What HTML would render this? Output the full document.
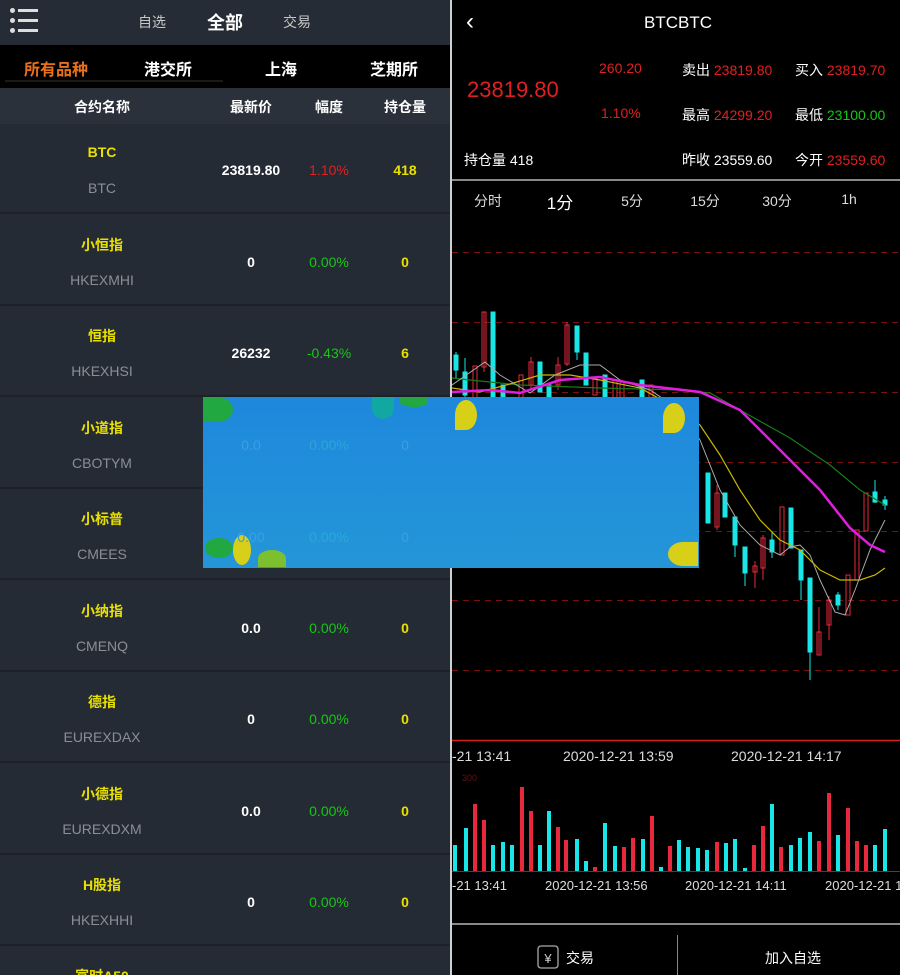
<!DOCTYPE html>
<html style="width:900px;height:975px;overflow:hidden"><head><meta charset="utf-8">
<style>
*{margin:0;padding:0;box-sizing:border-box}
body{width:900px;height:975px;overflow:hidden;background:#000;font-family:"Liberation Sans","Noto Sans CJK SC",sans-serif;position:relative}
.a{position:absolute;white-space:nowrap}
.c{transform:translateX(-50%)}
#left{position:absolute;left:0;top:0;width:450px;height:975px;background:#252b34;overflow:hidden}
.row{position:absolute;left:0;width:450px;height:90px;background:#252b34;border-bottom:2px solid #1d2128}
.nm{color:#e8e000;font-size:14px;font-weight:bold}
.cd{color:#8a8f96;font-size:14px}
.w{color:#fff;font-size:14px;font-weight:bold}
.g{color:#14c814;font-size:14px}
.r{color:#e02020;font-size:14px}
.y{color:#e8e000;font-size:14px;font-weight:bold}
</style></head><body>
<div id="left">
 <div class="a" style="left:0;top:0;width:450px;height:45px;background:#262c35"></div>
 <div class="a" style="left:10px;top:8px;width:5px;height:5px;border-radius:50%;background:#ddd"></div>
 <div class="a" style="left:10px;top:18px;width:5px;height:5px;border-radius:50%;background:#ddd"></div>
 <div class="a" style="left:10px;top:28px;width:5px;height:5px;border-radius:50%;background:#ddd"></div>
 <div class="a" style="left:18px;top:9px;width:20px;height:3px;background:#ddd"></div>
 <div class="a" style="left:18px;top:19px;width:20px;height:3px;background:#ddd"></div>
 <div class="a" style="left:18px;top:29px;width:20px;height:3px;background:#ddd"></div>
 <div class="a c" style="left:152px;top:12px;color:#c8c8c8;font-size:14px">自选</div>
 <div class="a c" style="left:225px;top:9px;color:#fff;font-size:18px;font-weight:bold">全部</div>
 <div class="a c" style="left:297px;top:12px;color:#c8c8c8;font-size:14px">交易</div>
 <div class="a" style="left:0;top:45px;width:450px;height:43px;background:#000"></div>
 <div class="a" style="left:5px;top:80px;width:218px;height:2px;background:#1a1a1a"></div>
 <div class="a c" style="left:56px;top:56px;color:#e8701a;font-size:16px;font-weight:bold">所有品种</div>
 <div class="a c" style="left:168px;top:56px;color:#fff;font-size:16px;font-weight:bold">港交所</div>
 <div class="a c" style="left:281px;top:56px;color:#fff;font-size:16px;font-weight:bold">上海</div>
 <div class="a c" style="left:394px;top:56px;color:#fff;font-size:16px;font-weight:bold">芝期所</div>
 <div class="a" style="left:0;top:88px;width:450px;height:36px;background:#2a313a"></div>
 <div class="a c" style="left:102px;top:97px;color:#fff;font-size:14px;font-weight:bold">合约名称</div>
 <div class="a c" style="left:251px;top:97px;color:#fff;font-size:14px;font-weight:bold">最新价</div>
 <div class="a c" style="left:329px;top:97px;color:#fff;font-size:14px;font-weight:bold">幅度</div>
 <div class="a c" style="left:405px;top:97px;color:#fff;font-size:14px;font-weight:bold">持仓量</div>

 <div class="row" style="top:124px"><div class="a c nm" style="left:102px;top:20px">BTC</div><div class="a c cd" style="left:102px;top:56px">BTC</div><div class="a c w" style="left:251px;top:38px">23819.80</div><div class="a c r" style="left:329px;top:38px">1.10%</div><div class="a c y" style="left:405px;top:38px">418</div></div>
 <div class="row" style="top:216px"><div class="a c nm" style="left:102px;top:19px">小恒指</div><div class="a c cd" style="left:102px;top:56px">HKEXMHI</div><div class="a c w" style="left:251px;top:38px">0</div><div class="a c g" style="left:329px;top:38px">0.00%</div><div class="a c y" style="left:405px;top:38px">0</div></div>
 <div class="row" style="top:307px"><div class="a c nm" style="left:102px;top:19px">恒指</div><div class="a c cd" style="left:102px;top:56px">HKEXHSI</div><div class="a c w" style="left:251px;top:38px">26232</div><div class="a c g" style="left:329px;top:38px">-0.43%</div><div class="a c y" style="left:405px;top:38px">6</div></div>
 <div class="row" style="top:399px"><div class="a c nm" style="left:102px;top:19px">小道指</div><div class="a c cd" style="left:102px;top:56px">CBOTYM</div></div>
 <div class="row" style="top:490px"><div class="a c nm" style="left:102px;top:19px">小标普</div><div class="a c cd" style="left:102px;top:56px">CMEES</div></div>
 <div class="row" style="top:582px"><div class="a c nm" style="left:102px;top:19px">小纳指</div><div class="a c cd" style="left:102px;top:56px">CMENQ</div><div class="a c w" style="left:251px;top:38px">0.0</div><div class="a c g" style="left:329px;top:38px">0.00%</div><div class="a c y" style="left:405px;top:38px">0</div></div>
 <div class="row" style="top:673px"><div class="a c nm" style="left:102px;top:19px">德指</div><div class="a c cd" style="left:102px;top:56px">EUREXDAX</div><div class="a c w" style="left:251px;top:38px">0</div><div class="a c g" style="left:329px;top:38px">0.00%</div><div class="a c y" style="left:405px;top:38px">0</div></div>
 <div class="row" style="top:765px"><div class="a c nm" style="left:102px;top:19px">小德指</div><div class="a c cd" style="left:102px;top:56px">EUREXDXM</div><div class="a c w" style="left:251px;top:38px">0.0</div><div class="a c g" style="left:329px;top:38px">0.00%</div><div class="a c y" style="left:405px;top:38px">0</div></div>
 <div class="row" style="top:856px"><div class="a c nm" style="left:102px;top:19px">H股指</div><div class="a c cd" style="left:102px;top:56px">HKEXHHI</div><div class="a c w" style="left:251px;top:38px">0</div><div class="a c g" style="left:329px;top:38px">0.00%</div><div class="a c y" style="left:405px;top:38px">0</div></div>
 <div class="row" style="top:948px;height:27px;border:none"><div class="a c nm" style="left:102px;top:18px">富时A50</div></div>
</div>
<div class="a" style="left:450px;top:0;width:2px;height:975px;background:#d0d0d0"></div>

<div class="a" style="left:466px;top:8px;color:#fff;font-size:24px">&#8249;</div>
<div class="a c" style="left:678px;top:13px;color:#fff;font-size:17px">BTCBTC</div>
<div class="a" style="left:467px;top:77px;color:#e02020;font-size:22px">23819.80</div>
<div class="a" style="left:599px;top:60px;color:#e02020;font-size:14px">260.20</div>
<div class="a" style="left:601px;top:105px;color:#e02020;font-size:14px">1.10%</div>
<div class="a" style="left:682px;top:60px;color:#fff;font-size:14px">卖出 <span style="color:#e02020">23819.80</span></div>
<div class="a" style="left:795px;top:60px;color:#fff;font-size:14px">买入 <span style="color:#e02020">23819.70</span></div>
<div class="a" style="left:682px;top:105px;color:#fff;font-size:14px">最高 <span style="color:#e02020">24299.20</span></div>
<div class="a" style="left:795px;top:105px;color:#fff;font-size:14px">最低 <span style="color:#14c814">23100.00</span></div>
<div class="a" style="left:464px;top:150px;color:#fff;font-size:14px">持仓量 418</div>
<div class="a" style="left:682px;top:150px;color:#fff;font-size:14px">昨收 23559.60</div>
<div class="a" style="left:795px;top:150px;color:#fff;font-size:14px">今开 <span style="color:#e02020">23559.60</span></div>
<div class="a" style="left:452px;top:179px;width:448px;height:2px;background:#888"></div>
<div class="a c" style="left:488px;top:191px;color:#ddd;font-size:14px">分时</div>
<div class="a c" style="left:560px;top:189px;color:#fff;font-size:17px">1分</div>
<div class="a c" style="left:632px;top:191px;color:#ddd;font-size:14px">5分</div>
<div class="a c" style="left:705px;top:191px;color:#ddd;font-size:14px">15分</div>
<div class="a c" style="left:777px;top:191px;color:#ddd;font-size:14px">30分</div>
<div class="a c" style="left:849px;top:191px;color:#ddd;font-size:14px">1h</div>

<svg class="a" style="left:452px;top:220px" width="448" height="755" viewBox="452 220 448 755">
<g stroke="#7a1010" stroke-dasharray="6,5" stroke-width="1">
<line x1="452" x2="900" y1="252.5" y2="252.5"/><line x1="452" x2="900" y1="322.5" y2="322.5"/><line x1="452" x2="900" y1="392.5" y2="392.5"/><line x1="452" x2="900" y1="462.5" y2="462.5"/><line x1="452" x2="900" y1="531.5" y2="531.5"/><line x1="452" x2="900" y1="600.5" y2="600.5"/><line x1="452" x2="900" y1="670.5" y2="670.5"/>
</g>
<g stroke-width="1" fill="none">
<g stroke="#19e6e6" fill="#19e6e6">
<line x1="456" x2="456" y1="352" y2="378"/><rect x="454" y="355" width="4" height="15"/>
<line x1="465" x2="465" y1="358" y2="400"/><rect x="463" y="372" width="4" height="23"/>
<rect x="491" y="312" width="4" height="90"/>
<rect x="501" y="385" width="4" height="15"/>
<rect x="538" y="362" width="4" height="30"/>
<rect x="547" y="385" width="4" height="15"/>
<line x1="577" x2="577" y1="326" y2="360"/><rect x="575" y="326" width="4" height="26"/>
<rect x="584" y="353" width="4" height="32"/>
<rect x="603" y="375" width="4" height="25"/>
<rect x="640" y="380" width="4" height="20"/>
<rect x="706" y="473" width="4" height="50"/>
<rect x="723" y="493" width="4" height="24"/>
<line x1="735" x2="735" y1="517" y2="557"/><rect x="733" y="517" width="4" height="28"/>
<line x1="745" x2="745" y1="547" y2="586"/><rect x="743" y="547" width="4" height="26"/>
<line x1="772" x2="772" y1="532" y2="558"/><rect x="770" y="540" width="4" height="12"/>
<rect x="789" y="508" width="4" height="40"/>
<line x1="801" x2="801" y1="550" y2="600"/><rect x="799" y="550" width="4" height="30"/>
<line x1="810" x2="810" y1="578" y2="680"/><rect x="808" y="578" width="4" height="74"/>
<line x1="838" x2="838" y1="592" y2="610"/><rect x="836" y="595" width="4" height="10"/>
<line x1="875" x2="875" y1="480" y2="503"/><rect x="873" y="492" width="4" height="10"/>
<line x1="885" x2="885" y1="496" y2="510"/><rect x="883" y="500" width="4" height="5"/>
</g>
<g stroke="#e8283c">
<rect x="473" y="366" width="4" height="34"/>
<line x1="484" x2="484" y1="312" y2="372"/><rect x="482" y="312" width="4" height="55"/>
<rect x="519" y="375" width="4" height="25"/>
<line x1="531" x2="531" y1="357" y2="390"/><rect x="529" y="362" width="4" height="23"/>
<line x1="558" x2="558" y1="357" y2="390"/><rect x="556" y="365" width="4" height="20"/>
<line x1="567" x2="567" y1="322" y2="366"/><rect x="565" y="325" width="4" height="39"/>
<rect x="593" y="378" width="4" height="17"/>
<rect x="613" y="380" width="4" height="20"/>
<rect x="620" y="382" width="4" height="18"/>
<rect x="649" y="385" width="4" height="15"/>
<line x1="717" x2="717" y1="485" y2="530"/><rect x="715" y="493" width="4" height="34"/>
<line x1="755" x2="755" y1="561" y2="588"/><rect x="753" y="566" width="4" height="6"/>
<line x1="763" x2="763" y1="535" y2="580"/><rect x="761" y="538" width="4" height="30"/>
<rect x="780" y="507" width="4" height="48"/>
<line x1="819" x2="819" y1="607" y2="655"/><rect x="817" y="632" width="4" height="23"/>
<line x1="829" x2="829" y1="596" y2="640"/><rect x="827" y="600" width="4" height="25"/>
<rect x="846" y="575" width="4" height="40"/>
<rect x="855" y="530" width="4" height="50"/>
<rect x="864" y="493" width="4" height="38"/>
</g>
</g>
<polyline fill="none" stroke="#1a7a1a" stroke-width="1.2" points="452,378 470,380 520,385 600,388 680,390 710,393 740,410 790,438 830,465 860,490 885,505"/>
<polyline fill="none" stroke="#c8b800" stroke-width="1.2" points="452,388 480,392 510,384 540,375 570,375 600,380 640,388 680,410 700,425 720,455 740,490 760,520 780,540 800,550 820,570 840,580 860,580 875,575 885,568"/>
<polyline fill="none" stroke="#aaa" stroke-width="1" points="452,385 485,362 500,375 530,393 555,375 580,365 600,365 620,380 650,390 680,410 700,440 720,490 740,525 760,545 780,555 790,547 800,545 810,555 820,580 835,612 845,615 855,590 870,550 885,520"/>
<polyline fill="none" stroke="#e01ee0" stroke-width="2.5" points="452,392 490,390 520,393 560,380 600,377 640,385 700,392 740,410 760,430 790,460 820,490 850,528 870,545 885,552"/>
<line x1="452" x2="900" y1="740.5" y2="740.5" stroke="#d02020" stroke-width="1.5"/>
<text x="452" y="761" fill="#ddd" font-size="14" font-family="Liberation Sans">-21 13:41</text>
<text x="563" y="761" fill="#ddd" font-size="14" font-family="Liberation Sans">2020-12-21 13:59</text>
<text x="731" y="761" fill="#ddd" font-size="14" font-family="Liberation Sans">2020-12-21 14:17</text>
<line x1="452" x2="900" y1="871.5" y2="871.5" stroke="#444"/>
<g fill="#19e6e6">
<rect x="453" y="845" width="4" height="26"/><rect x="464" y="828" width="4" height="43"/><rect x="491" y="845" width="4" height="26"/><rect x="501" y="842" width="4" height="29"/><rect x="510" y="845" width="4" height="26"/><rect x="538" y="845" width="4" height="26"/><rect x="547" y="811" width="4" height="60"/><rect x="575" y="839" width="4" height="32"/><rect x="584" y="861" width="4" height="10"/><rect x="603" y="823" width="4" height="48"/><rect x="613" y="846" width="4" height="25"/><rect x="641" y="839" width="4" height="32"/><rect x="659" y="867" width="4" height="4"/><rect x="677" y="840" width="4" height="31"/><rect x="686" y="847" width="4" height="24"/><rect x="696" y="848" width="4" height="23"/><rect x="705" y="850" width="4" height="21"/><rect x="724" y="843" width="4" height="28"/><rect x="733" y="839" width="4" height="32"/><rect x="743" y="868" width="4" height="3"/><rect x="770" y="804" width="4" height="67"/><rect x="789" y="845" width="4" height="26"/><rect x="798" y="838" width="4" height="33"/><rect x="808" y="832" width="4" height="39"/><rect x="836" y="835" width="4" height="36"/><rect x="873" y="845" width="4" height="26"/><rect x="883" y="829" width="4" height="42"/>
</g>
<g fill="#e8283c">
<rect x="473" y="804" width="4" height="67"/><rect x="482" y="820" width="4" height="51"/><rect x="520" y="787" width="4" height="84"/><rect x="529" y="811" width="4" height="60"/><rect x="556" y="827" width="4" height="44"/><rect x="564" y="840" width="4" height="31"/><rect x="593" y="867" width="4" height="4"/><rect x="622" y="847" width="4" height="24"/><rect x="631" y="838" width="4" height="33"/><rect x="650" y="816" width="4" height="55"/><rect x="668" y="846" width="4" height="25"/><rect x="715" y="842" width="4" height="29"/><rect x="752" y="845" width="4" height="26"/><rect x="761" y="826" width="4" height="45"/><rect x="779" y="847" width="4" height="24"/><rect x="817" y="841" width="4" height="30"/><rect x="827" y="793" width="4" height="78"/><rect x="846" y="808" width="4" height="63"/><rect x="855" y="841" width="4" height="30"/><rect x="864" y="845" width="4" height="26"/>
</g>
<text x="462" y="781" fill="#6a1010" font-size="9" font-family="Liberation Sans">300</text>
<text x="452" y="890" fill="#ddd" font-size="13" font-family="Liberation Sans">-21 13:41</text>
<text x="545" y="890" fill="#ddd" font-size="13" font-family="Liberation Sans">2020-12-21 13:56</text>
<text x="685" y="890" fill="#ddd" font-size="13" font-family="Liberation Sans">2020-12-21 14:11</text>
<text x="825" y="890" fill="#ddd" font-size="13" font-family="Liberation Sans">2020-12-21 1</text>
<line x1="452" x2="900" y1="924" y2="924" stroke="#888" stroke-width="2"/>
<line x1="677.5" x2="677.5" y1="935" y2="975" stroke="#888" stroke-width="1"/>
<rect x="538" y="946" width="20" height="22" rx="3" fill="none" stroke="#aaa" stroke-width="1.3"/>
<text x="548" y="963" fill="#ccc" font-size="13" text-anchor="middle" font-family="Liberation Sans">¥</text>
</svg>
<div class="a" style="left:566px;top:948px;color:#fff;font-size:14px">交易</div>
<div class="a c" style="left:793px;top:948px;color:#fff;font-size:14px">加入自选</div>

<div class="a" style="left:203px;top:397px;width:496px;height:171px;background:linear-gradient(180deg,#1e88dc,#2496d8)"></div>
<div class="a" style="left:203px;top:397px;width:30px;height:25px;border-radius:0 60% 60% 0;background:#22a840"></div>
<div class="a" style="left:372px;top:397px;width:22px;height:22px;border-radius:0 0 60% 60%;background:#10a8a0"></div>
<div class="a" style="left:400px;top:397px;width:28px;height:10px;border-radius:0 0 60% 60%;background:#22a840"></div>
<div class="a" style="left:455px;top:400px;width:22px;height:30px;border-radius:50% 50% 50% 0;background:#d8d018"></div>
<div class="a" style="left:663px;top:403px;width:22px;height:30px;border-radius:50% 50% 50% 0;background:#d8d018"></div>
<div class="a" style="left:205px;top:538px;width:28px;height:20px;border-radius:60%;background:#22a840"></div>
<div class="a" style="left:233px;top:535px;width:18px;height:30px;border-radius:50%;background:#d8d018"></div>
<div class="a" style="left:258px;top:550px;width:28px;height:17px;border-radius:60% 60% 0 0;background:#7cc030"></div>
<div class="a" style="left:668px;top:542px;width:30px;height:24px;border-radius:50% 0 0 50%;background:#d8d018"></div>
<div class="a c" style="left:251px;top:437px;color:#3aa0e0;font-size:14px">0.0</div>
<div class="a c" style="left:329px;top:437px;color:#28a8d8;font-size:14px">0.00%</div>
<div class="a c" style="left:405px;top:437px;color:#3aa0e0;font-size:14px">0</div>
<div class="a c" style="left:251px;top:529px;color:#3aa0e0;font-size:14px">0.00</div>
<div class="a c" style="left:329px;top:529px;color:#28a8d8;font-size:14px">0.00%</div>
<div class="a c" style="left:405px;top:529px;color:#3aa0e0;font-size:14px">0</div>
</body></html>
